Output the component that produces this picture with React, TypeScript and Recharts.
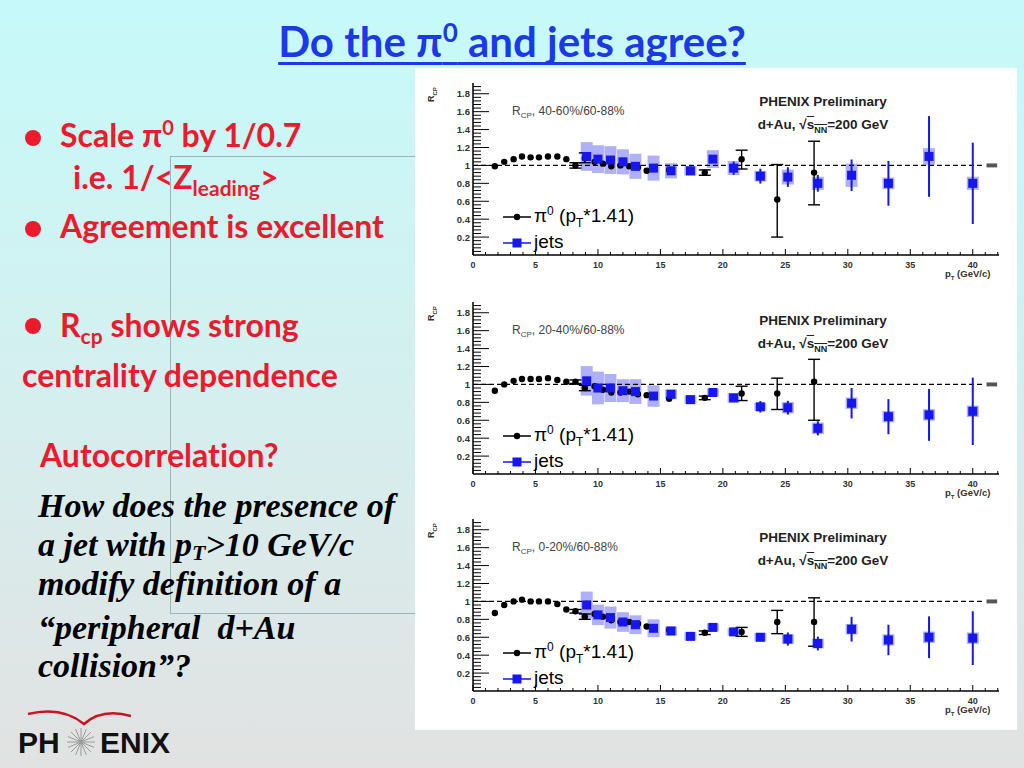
import React from "react";
import {
  ScatterChart,
  Scatter,
  XAxis,
  YAxis,
  ErrorBar,
  ReferenceLine,
  ReferenceArea,
} from "recharts";

// pi0 points (pT scaled by 1.41), shared x positions
const pi0Pt = [
  1.75, 2.5, 3.25, 3.92, 4.61, 5.28, 6.0, 6.75, 7.47, 8.2, 8.95, 9.73, 10.4,
  11.07, 11.8, 12.5, 13.2, 13.9, 15.7, 18.55, 21.5, 24.35, 27.3,
];
const pi0R4060 = [
  0.99, 1.04, 1.07, 1.1, 1.09, 1.09, 1.1, 1.1, 1.07, 1.0, 1.08, 1.04, 1.02,
  0.99, 1.0, 0.99, 0.98, 0.94, 0.95, 0.92, 1.07, 0.62, 0.92,
];
const pi0Err4060 = [
  null, null, null, null, null, null, null, null, null, [0.03, 0.03],
  [0.05, 0.06], null, null, null, null, null, null, null, null, [0.03, 0.03],
  [0.11, 0.1], [0.42, 0.39], [0.36, 0.35],
];
const pi0R2040 = [
  0.93, 1.0, 1.04, 1.06, 1.06, 1.06, 1.07, 1.05, 1.03, 1.03, 0.96, 0.98, 0.94,
  0.91, 0.91, 0.92, 0.89, 0.88, 0.84, 0.85, 0.9, 0.9, 1.03,
];
const pi0Err2040 = [
  null, null, null, null, null, null, null, null, null, [0.02, 0.02],
  [0.03, 0.03], null, null, null, null, null, null, null, null, [0.02, 0.02],
  [0.08, 0.08], [0.18, 0.17], [0.43, 0.25],
];
const pi0R0020 = [
  0.87, 0.96, 1.0, 1.02, 1.0, 1.0, 1.0, 0.97, 0.91, 0.89, 0.83, 0.86, 0.83,
  0.79, 0.77, 0.77, 0.75, 0.72, 0.68, 0.65, 0.66, 0.77, 0.77,
];
const pi0Err0020 = [
  null, null, null, null, null, null, null, null, null, [0.02, 0.02],
  [0.03, 0.03], null, null, null, null, null, null, null, null, [0.02, 0.02],
  [0.05, 0.05], [0.13, 0.13], [0.27, 0.27],
];

// jets
const jetsPt = [
  9.1, 10.0, 11.0, 12.0, 13.0, 14.45, 15.85, 17.4, 19.2, 20.86, 23.0, 25.2,
  27.6, 30.3, 33.25, 36.5, 40.0,
];
const jetsR4060 = [
  1.1, 1.07, 1.06, 1.04, 0.99, 0.97, 0.94, 0.94, 1.07, 0.97, 0.88, 0.87, 0.8,
  0.89, 0.8, 1.1, 0.8,
];
const jetsStat4060 = [
  0.02, 0.02, 0.02, 0.02, 0.02, 0.02, 0.03, 0.03, 0.04, 0.074, 0.083, 0.11,
  0.093, 0.176, 0.25, 0.45, 0.454,
];
const jetsSys4060 = [
  0.16, 0.155, 0.155, 0.14, 0.14, 0.14, 0.085, 0.055, 0.1, 0.078, 0.06, 0.083,
  0.074, 0.13, 0.065, 0.093, 0.074,
];
const jetsR2040 = [
  1.04, 0.96, 0.96, 0.93, 0.92, 0.87, 0.89, 0.83, 0.91, 0.85, 0.75, 0.74, 0.51,
  0.79, 0.64, 0.66, 0.7,
];
const jetsStat2040 = [
  0.02, 0.02, 0.02, 0.02, 0.02, 0.02, 0.02, 0.02, 0.03, 0.04, 0.064, 0.077,
  0.079, 0.17, 0.196, 0.29, 0.376,
];
const jetsSys2040 = [
  0.165, 0.183, 0.156, 0.128, 0.138, 0.12, 0.055, 0.046, 0.042, 0.055, 0.046,
  0.064, 0.064, 0.064, 0.064, 0.064, 0.064,
];
const jetsR0020 = [
  0.96, 0.85, 0.82, 0.77, 0.74, 0.7, 0.67, 0.61, 0.71, 0.66, 0.6, 0.58, 0.53,
  0.69, 0.57, 0.6, 0.59,
];
const jetsStat0020 = [
  0.02, 0.02, 0.02, 0.02, 0.02, 0.02, 0.02, 0.02, 0.02, 0.03, 0.04, 0.073,
  0.077, 0.138, 0.17, 0.233, 0.3,
];
const jetsSys0020 = [
  0.15, 0.114, 0.123, 0.11, 0.105, 0.1, 0.05, 0.046, 0.044, 0.042, 0.048,
  0.055, 0.055, 0.059, 0.064, 0.064, 0.064,
];

const xMajor = [0, 5, 10, 15, 20, 25, 30, 35, 40];
const yMajor = [0.2, 0.4, 0.6, 0.8, 1, 1.2, 1.4, 1.6, 1.8];
const xTicks = Array.from({ length: 43 }, (_, i) => i);
const yTicks = Array.from({ length: 47 }, (_, i) => +((i + 1) * 0.04).toFixed(2));

const JET = "#1616ee";
const BOX = "#b0b0f8";
const RED = "#ec1a2c";
const ROOTFONT = "'Liberation Sans', Arial, sans-serif";

const XTick = (p: any) => {
  const v = p.payload.value;
  const major = xMajor.includes(v);
  return (
    <g>
      <line x1={p.x} x2={p.x} y1={p.y} y2={p.y - (major ? 6 : 3)} stroke="#000" />
      {major && (
        <text x={p.x} y={p.y + 13} textAnchor="middle" fontSize={9} fontWeight="bold" fill="#333" fontFamily={ROOTFONT}>
          {v}
        </text>
      )}
    </g>
  );
};

const YTick = (p: any) => {
  const v = p.payload.value;
  const major = yMajor.some((m) => Math.abs(m - v) < 1e-6);
  return (
    <g>
      <line x1={p.x} x2={p.x + (major ? 16 : 8)} y1={p.y} y2={p.y} stroke="#000" />
      {major && (
        <text x={p.x - 3} y={p.y + 3.5} textAnchor="end" fontSize={9.5} fontWeight="bold" fill="#333" fontFamily={ROOTFONT}>
          {v === 1 ? "1" : v.toFixed(1)}
        </text>
      )}
    </g>
  );
};

const Dot = (p: any) => <circle cx={p.cx} cy={p.cy} r={3.2} fill="#000" />;
const Square = (p: any) => (
  <rect x={p.cx - 4.5} y={p.cy - 4.5} width={9} height={9} fill={JET} />
);
const Empty = () => <g />;

const flat = (fontSize: number) => ({ fontSize, lineHeight: 0 });

function Panel(props: any) {
  const { top, label, pi0R, pi0Err, jetsR, jetsStat, jetsSys } = props;
  const pi0Data = pi0Pt.map((x, i) => ({ x, y: pi0R[i], err: pi0Err[i] }));
  const jetsData = jetsPt.map((x, i) => ({
    x,
    y: jetsR[i],
    stat: jetsStat[i],
    sys: jetsSys[i],
  }));
  const txt = { position: "absolute" as const, fontFamily: ROOTFONT, whiteSpace: "nowrap" as const, lineHeight: 1 };

  return (
    <div style={{ position: "absolute", left: 415, top, width: 602, height: 218 }}>
      <ScatterChart width={602} height={218} margin={{ top: 15, right: 18, bottom: 11, left: 28 }}>
        <XAxis
          xAxisId={0}
          type="number"
          dataKey="x"
          domain={[0, 42.1]}
          ticks={xTicks}
          interval={0}
          tick={<XTick />}
          tickSize={0}
          tickMargin={0}
          tickLine={false}
          height={20}
          allowDataOverflow
          axisLine={{ stroke: "#000", strokeWidth: 1.5 }}
        />
        <XAxis xAxisId="t" orientation="top" type="number" domain={[0, 42.1]} height={0} tick={false} tickLine={false} axisLine={{ stroke: "#000", strokeWidth: 1.5 }} />
        <YAxis
          yAxisId={0}
          type="number"
          dataKey="y"
          domain={[0, 1.92]}
          ticks={yTicks}
          interval={0}
          tick={<YTick />}
          tickSize={0}
          tickMargin={0}
          tickLine={false}
          width={30}
          allowDataOverflow
          axisLine={{ stroke: "#000", strokeWidth: 1.5 }}
        />
        <YAxis yAxisId="r" orientation="right" type="number" domain={[0, 1.92]} width={0} tick={false} tickLine={false} axisLine={{ stroke: "#000", strokeWidth: 1.5 }} />

        <Scatter data={jetsData} shape={Empty} isAnimationActive={false}>
          <ErrorBar dataKey="sys" direction="y" width={0} stroke={BOX} strokeWidth={12} isAnimationActive={false} />
        </Scatter>
        <ReferenceLine segment={[{ x: 0, y: 1 }, { x: 40.9, y: 1 }]} stroke="#000" strokeWidth={1.4} strokeDasharray="5 3" />
        <ReferenceArea x1={41.1} x2={41.95} y1={0.978} y2={1.022} fill="#555" fillOpacity={1} stroke="none" />
        <Scatter data={pi0Data} shape={Dot} isAnimationActive={false}>
          <ErrorBar dataKey="err" direction="y" width={6} stroke="#000" strokeWidth={1.4} isAnimationActive={false} />
        </Scatter>
        <Scatter data={jetsData} shape={Square} isAnimationActive={false}>
          <ErrorBar dataKey="stat" direction="y" width={0} stroke={JET} strokeWidth={2} isAnimationActive={false} />
        </Scatter>
      </ScatterChart>

      {/* axis titles */}
      <div style={{ ...txt, left: 12, top: 34, fontSize: 9, color: "#333", fontWeight: "bold", transform: "rotate(-90deg)", transformOrigin: "left top" }}>
        R<sub style={flat(6)}>CP</sub>
      </div>
      <div style={{ ...txt, left: 530, top: 201, fontSize: 9.5, fontWeight: "bold", color: "#333" }}>
        p<sub style={flat(6)}>T</sub> (GeV/c)
      </div>

      {/* labels inside frame */}
      <div style={{ ...txt, left: 97, top: 37, fontSize: 12, color: "#444" }}>
        R<sub style={flat(8)}>CP</sub>, {label}
      </div>
      <div style={{ ...txt, left: 318, width: 180, textAlign: "center", top: 27, fontSize: 13.5, fontWeight: "bold", color: "#222" }}>
        PHENIX Preliminary
      </div>
      <div style={{ ...txt, left: 318, width: 180, textAlign: "center", top: 50, fontSize: 13.5, fontWeight: "bold", color: "#222" }}>
        d+Au, √<span style={{ textDecoration: "overline" }}>s<sub style={flat(9)}>NN</sub></span>=200 GeV
      </div>

      {/* legend */}
      <div style={{ ...txt, left: 88, top: 138, fontSize: 19, color: "#000" }}>
        <svg width={28} height={14} style={{ verticalAlign: "middle" }}>
          <line x1={0} x2={28} y1={7} y2={7} stroke="#000" strokeWidth={1.5} />
          <circle cx={14} cy={7} r={3.2} fill="#000" />
        </svg>
        <span style={{ marginLeft: 3 }}>
          π<sup style={flat(12)}>0</sup> (p<sub style={flat(12)}>T</sub>*1.41)
        </span>
      </div>
      <div style={{ ...txt, left: 88, top: 164, fontSize: 19, color: "#000" }}>
        <svg width={28} height={14} style={{ verticalAlign: "middle" }}>
          <line x1={0} x2={28} y1={7} y2={7} stroke={JET} strokeWidth={1.5} />
          <rect x={9.5} y={2.5} width={9} height={9} fill={JET} />
        </svg>
        <span style={{ marginLeft: 3 }}>jets</span>
      </div>
    </div>
  );
}

export default function App() {
  const sans = "Lato, 'Open Sans', sans-serif";
  const abs = { position: "absolute" as const, whiteSpace: "nowrap" as const, lineHeight: 1 };
  const red = { ...abs, fontFamily: sans, fontWeight: 700, color: RED, fontSize: 32, fontVariantLigatures: "none" as const };
  const ital = { ...abs, fontFamily: "'Liberation Serif', 'Times New Roman', serif", fontWeight: 700, fontStyle: "italic" as const, fontSize: 34, color: "#000" };
  const bullet = (top: number) => (
    <div style={{ ...abs, left: 25, top, width: 16, height: 16, borderRadius: "50%", background: RED }} />
  );

  return (
    <div
      style={{
        position: "absolute",
        left: 0,
        top: 0,
        width: 1024,
        height: 768,
        overflow: "hidden",
        background: "linear-gradient(180deg, #c6fafa 0%, #d6eeee 55%, #e2e2e2 100%)",
      }}
    >
      {/* title */}
      <div style={{ ...abs, left: 0, width: 1024, top: 20, textAlign: "center", fontFamily: sans, fontWeight: 700, fontSize: 42, color: "#1a3ae8", textDecoration: "underline", textDecorationThickness: 3, textUnderlineOffset: 5, textDecorationSkipInk: "none" as any }}>
        Do the π<sup style={flat(26)}>0</sup> and jets agree?
      </div>

      {/* faint object frame */}
      <div style={{ position: "absolute", left: 170, top: 156, width: 250, height: 456, border: "1px solid #9ab4b8", borderRight: "none" }} />

      {/* bullets */}
      {bullet(130)}
      <div style={{ ...red, left: 60, top: 119 }}>
        Scale π<sup style={flat(20)}>0</sup> by 1/0.7
      </div>
      <div style={{ ...red, left: 73, top: 161 }}>
        i.e. 1/&lt;Z<sub style={flat(21)}>leading</sub>&gt;
      </div>
      {bullet(221)}
      <div style={{ ...red, left: 60, top: 210 }}>Agreement is excellent</div>
      {bullet(318)}
      <div style={{ ...red, left: 60, top: 309 }}>
        R<sub style={flat(21)}>cp</sub> shows strong
      </div>
      <div style={{ ...red, left: 22, top: 359 }}>centrality dependence</div>
      <div style={{ ...red, left: 40, top: 439 }}>Autocorrelation?</div>

      <div style={{ ...ital, left: 38, top: 489 }}>How does the presence of</div>
      <div style={{ ...ital, left: 38, top: 528 }}>
        a jet with p<span style={{ fontSize: 22, lineHeight: 0, verticalAlign: "-4px" }}>T</span>&gt;10 GeV/c
      </div>
      <div style={{ ...ital, left: 38, top: 567 }}>modify definition of a</div>
      <div style={{ ...ital, left: 38, top: 611 }}>“peripheral&nbsp; d+Au</div>
      <div style={{ ...ital, left: 38, top: 649 }}>collision”?</div>

      {/* logo */}
      <svg style={{ position: "absolute", left: 0, top: 700 }} width={200} height={68}>
        <path d="M28,14 Q62,6 84,24 Q102,8 131,16" fill="none" stroke="#c8141e" strokeWidth={2.5} />
        {[0, 22.5, 45, 67.5, 90, 112.5, 135, 157.5].map((a) => {
          const r = (a * Math.PI) / 180;
          return (
            <line key={a} x1={81 - 14 * Math.cos(r)} y1={42 - 14 * Math.sin(r)} x2={81 + 14 * Math.cos(r)} y2={42 + 14 * Math.sin(r)} stroke="#999" strokeWidth={1} />
          );
        })}
        <text x={18} y={53} fontFamily={ROOTFONT} fontWeight="bold" fontSize={30} fill="#111">PH</text>
        <text x={100} y={53} fontFamily={ROOTFONT} fontWeight="bold" fontSize={30} fill="#111">ENIX</text>
      </svg>

      {/* white figure area */}
      <div style={{ position: "absolute", left: 415, top: 68, width: 602, height: 662, background: "#fff" }} />

      <Panel top={68} label="40-60%/60-88%" pi0R={pi0R4060} pi0Err={pi0Err4060} jetsR={jetsR4060} jetsStat={jetsStat4060} jetsSys={jetsSys4060} />
      <Panel top={287} label="20-40%/60-88%" pi0R={pi0R2040} pi0Err={pi0Err2040} jetsR={jetsR2040} jetsStat={jetsStat2040} jetsSys={jetsSys2040} />
      <Panel top={504} label="0-20%/60-88%" pi0R={pi0R0020} pi0Err={pi0Err0020} jetsR={jetsR0020} jetsStat={jetsStat0020} jetsSys={jetsSys0020} />
    </div>
  );
}
